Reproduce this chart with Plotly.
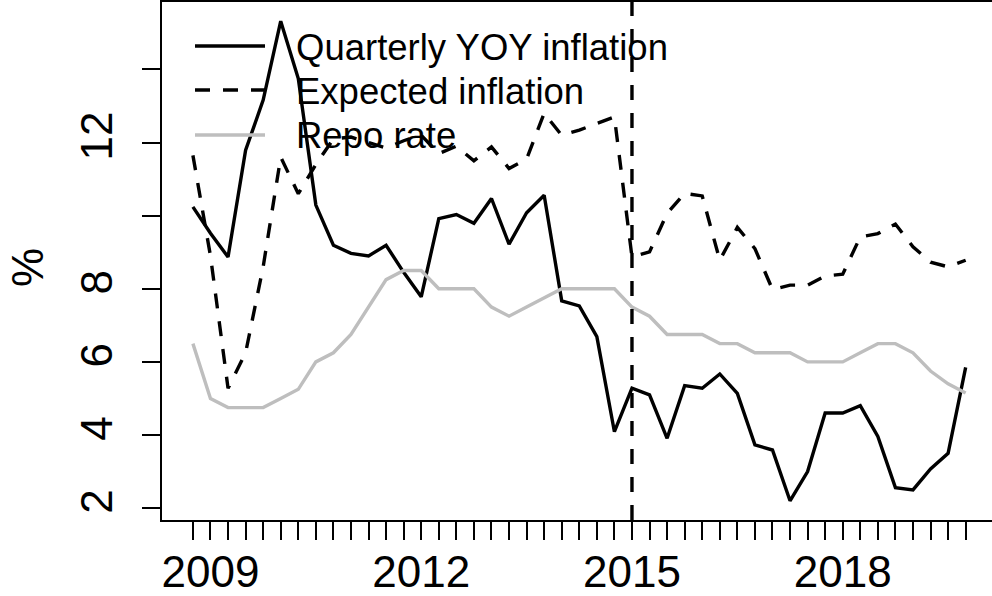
import pandas as pd
import plotly.graph_objects as go

# ---- data ----
quarters = [str(p) for p in pd.period_range("2008Q4", "2019Q4", freq="Q")]

inflation = [10.24, 9.52, 8.87, 11.79, 13.16, 15.32, 13.75, 10.29, 9.19, 8.97,
             8.90, 9.19, 8.45, 7.78, 9.92, 10.03, 9.79, 10.47, 9.22, 10.08,
             10.56, 7.67, 7.53, 6.69, 4.09, 5.28, 5.10, 3.91, 5.35, 5.28,
             5.67, 5.14, 3.73, 3.59, 2.20, 3.00, 4.60, 4.60, 4.80, 3.96,
             2.56, 2.50, 3.07, 3.50, 5.85]

expected = [11.65, 8.90, 5.28, 6.25, 8.60, 11.60, 10.60, 11.40, 12.10, 12.15,
            12.00, 11.85, 12.05, 12.20, 11.70, 11.90, 11.50, 11.88, 11.29, 11.55,
            12.80, 12.20, 12.34, 12.53, 12.70, 8.87, 9.01, 10.06, 10.61, 10.54,
            8.78, 9.68, 9.10, 7.98, 8.10, 8.10, 8.35, 8.40, 9.42, 9.51,
            9.77, 9.15, 8.73, 8.60, 8.78]

repo = [6.50, 5.00, 4.75, 4.75, 4.75, 5.00, 5.25, 6.00, 6.25, 6.75,
        7.50, 8.25, 8.50, 8.50, 8.00, 8.00, 8.00, 7.50, 7.25, 7.50,
        7.75, 8.00, 8.00, 8.00, 8.00, 7.50, 7.25, 6.75, 6.75, 6.75,
        6.50, 6.50, 6.25, 6.25, 6.25, 6.00, 6.00, 6.00, 6.25, 6.50,
        6.50, 6.25, 5.75, 5.40, 5.15]

series_names = ["Quarterly YOY inflation", "Expected inflation", "Repo rate"]
x_tick_labels = ["2009", "2012", "2015", "2018"]
y_tick_values = [2, 4, 6, 8, 10, 12, 14]
y_tick_labels = ["2", "4", "6", "8", "", "12", ""]
y_title = "%"
policy_break = 2015.0

# ---- derived positions (time index like R's ts) ----
def to_time(q):
    year, qn = q.split("Q")
    return int(year) + (int(qn) - 1) / 4.0

t = [to_time(q) for q in quarters]
x_ticktext = [str(int(v)) if (v == int(v) and str(int(v)) in x_tick_labels) else "" for v in t]

FONT = "Liberation Sans, Arial, Helvetica, sans-serif"
GRAY = "#BEBEBE"
DASH = "15px,13px"
LW = 3.4

fig = go.Figure()
fig.add_trace(go.Scatter(x=t, y=inflation, mode="lines", name=series_names[0],
                         line=dict(color="black", width=LW)))
fig.add_trace(go.Scatter(x=t, y=expected, mode="lines", name=series_names[1],
                         line=dict(color="black", width=LW, dash=DASH)))
fig.add_trace(go.Scatter(x=t, y=repo, mode="lines", name=series_names[2],
                         line=dict(color=GRAY, width=LW)))

# vertical dashed line at the policy break
fig.add_shape(type="line", xref="x", yref="paper", x0=policy_break, x1=policy_break,
              y0=0, y1=1, line=dict(color="black", width=LW, dash=DASH))

# manual legend (R style: long line samples, no box)
W, H, L, T = 830, 518, 162, 2
def px_x(px):
    return (px - L) / W
def px_y(py):
    return 1 - (py - T) / H

leg_rows = [46, 90, 135]
leg_styles = [dict(color="black", width=LW),
              dict(color="black", width=LW, dash=DASH),
              dict(color=GRAY, width=LW)]
for name, row, st in zip(series_names, leg_rows, leg_styles):
    fig.add_shape(type="line", xref="paper", yref="paper",
                  x0=px_x(195), x1=px_x(265), y0=px_y(row), y1=px_y(row), line=st)
    fig.add_annotation(xref="paper", yref="paper", x=px_x(294), y=px_y(row + 1),
                       text=name, showarrow=False, xanchor="left", yanchor="middle",
                       font=dict(family=FONT, size=36.5, color="black"))

# y axis title
fig.add_annotation(xref="paper", yref="paper", x=px_x(27), y=px_y(268), text=y_title,
                   showarrow=False, textangle=-90, xanchor="center", yanchor="middle",
                   font=dict(family=FONT, size=44, color="black"))

fig.update_layout(
    width=992, height=596,
    margin=dict(l=L, r=0, t=T, b=76, pad=0),
    paper_bgcolor="white", plot_bgcolor="white",
    showlegend=False,
    font=dict(family=FONT, color="black"),
    xaxis=dict(range=[2008.31, 2008.31 + 830 / 70.25], showgrid=False, zeroline=False,
               showline=True, mirror=True, linecolor="black", linewidth=2,
               ticks="outside", ticklen=18, tickwidth=2, tickcolor="black",
               tickmode="array", tickvals=t, ticktext=x_ticktext,
               ticklabelstandoff=-6,
               tickfont=dict(family=FONT, size=44, color="black"), automargin=False),
    yaxis=dict(range=[1.675, 15.845], showgrid=False, zeroline=False,
               showline=True, mirror=False, linecolor="black", linewidth=2,
               ticks="outside", ticklen=18, tickwidth=2, tickcolor="black",
               tickmode="array", tickvals=y_tick_values, ticktext=y_tick_labels,
               tickangle=-90, ticklabelstandoff=12,
               tickfont=dict(family=FONT, size=44, color="black"), automargin=False),
)

fig.write_html("out.html", config={"displayModeBar": False},
               post_script="document.body.style.margin='0';document.body.style.overflow='hidden';")
